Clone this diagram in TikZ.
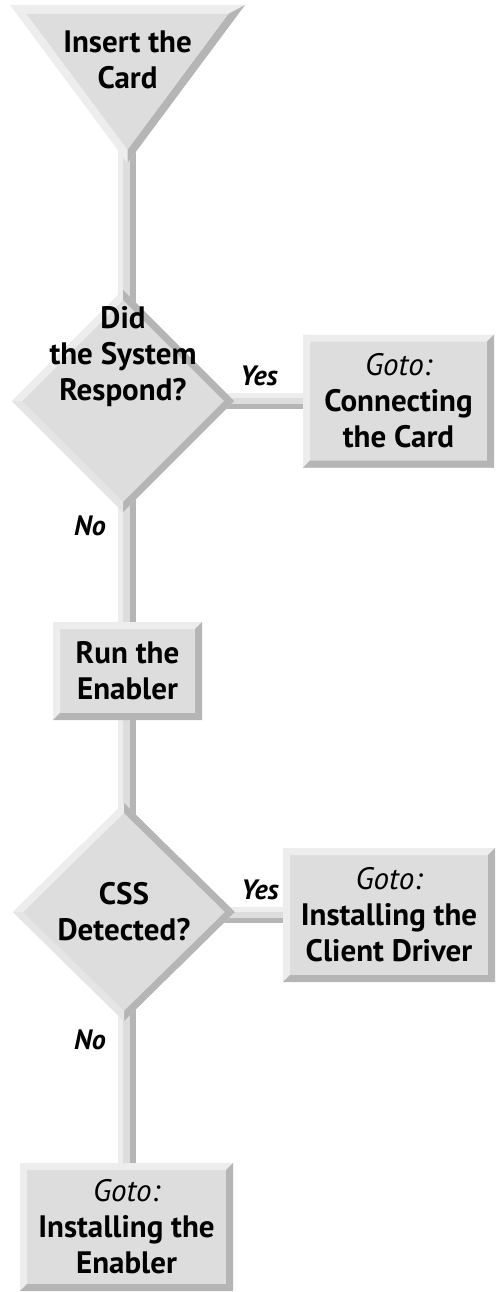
\documentclass[tikz,border=0pt]{standalone}
\usepackage{fontspec}
\setmainfont{PT Sans}
\usetikzlibrary{shapes.geometric,calc,backgrounds}
\definecolor{facecol}{gray}{0.865}
\definecolor{litecol}{gray}{0.93}
\definecolor{lite2col}{gray}{0.90}
\definecolor{darkcol}{gray}{0.71}
\begin{document}
\begin{tikzpicture}[x=1pt,y=-1pt,
  txt/.style={font=\bfseries\fontsize{31}{36}\selectfont, align=center},
  lbl/.style={font=\bfseries\itshape\fontsize{28}{30}\selectfont, inner sep=0pt},
  bevbox/.style={rectangle, inner sep=0pt, outer sep=0pt, fill=facecol, txt,
    path picture={
      \coordinate (NW) at (path picture bounding box.north west);
      \coordinate (NE) at (path picture bounding box.north east);
      \coordinate (SW) at (path picture bounding box.south west);
      \coordinate (SE) at (path picture bounding box.south east);
      \fill[litecol] (NW) -- (NE) -- ([shift={(-7pt,-7pt)}]NE) -- ([shift={(7pt,-7pt)}]NW) -- cycle;
      \fill[litecol] (NW) -- ([shift={(7pt,-7pt)}]NW) -- ([shift={(7pt,7pt)}]SW) -- (SW) -- cycle;
      \fill[darkcol] (NE) -- (SE) -- ([shift={(-7pt,7pt)}]SE) -- ([shift={(-7pt,-7pt)}]NE) -- cycle;
      \fill[darkcol] (SW) -- (SE) -- ([shift={(-7pt,7pt)}]SE) -- ([shift={(7pt,7pt)}]SW) -- cycle;
    }},
  bevdiam/.style={diamond, inner sep=0pt, outer sep=0pt, fill=facecol,
    path picture={
      \coordinate (DN) at (path picture bounding box.north);
      \coordinate (DE) at (path picture bounding box.east);
      \coordinate (DS) at (path picture bounding box.south);
      \coordinate (DW) at (path picture bounding box.west);
      \fill[litecol] (DN) -- (DW) -- ([xshift=10pt]DW) -- ([yshift=-10pt]DN) -- cycle;
      \fill[darkcol] (DN) -- (DE) -- ([xshift=-10pt]DE) -- ([yshift=-10pt]DN) -- cycle;
      \fill[darkcol] (DE) -- (DS) -- ([yshift=10pt]DS) -- ([xshift=-10pt]DE) -- cycle;
      \fill[lite2col] (DS) -- (DW) -- ([xshift=10pt]DW) -- ([yshift=10pt]DS) -- cycle;
    }}
]
\useasboundingbox (0,0) rectangle (497,1292);
\coordinate (spine) at (127,0);

% funnel (triangle)
\fill[litecol] (10,5) -- (245,5) -- (127.5,163) -- cycle;
\fill[darkcol] (245,5) -- (127.5,163) -- (127.5,149.6) -- (228.3,14) -- cycle;
\fill[facecol] (26.7,14) -- (228.3,14) -- (127.5,149.6) -- cycle;
\node[txt, inner sep=0pt] (tri) at (127.5,60) {Insert the\\Card};

% decision 1
\node[bevdiam, minimum width=222pt, minimum height=222pt,
  label={[txt, yshift=44pt]center:{Did\\the System\\Respond?}}] (d1) at (123,401) {};
\node[bevbox, minimum width=191pt, minimum height=133pt] (b1) at (398.5,401)
  {\mdseries\itshape Goto:\\Connecting\\the Card};
\node[lbl] (yes1) at (259,376) {Yes};
\node[lbl] (no1) at (90,526) {No};

% run the enabler
\node[bevbox, minimum width=149pt, minimum height=98pt] (run) at (127.5,671) {Run the\\Enabler};

% decision 2
\node[bevdiam, minimum width=222pt, minimum height=218pt,
  label={[txt]center:{CSS\\Detected?}}] (d2) at (124,912) {};
\node[bevbox, minimum width=212pt, minimum height=134pt] (b2) at (389,915)
  {\mdseries\itshape Goto:\\Installing the\\Client Driver};
\node[lbl] (yes2) at (260,890) {Yes};
\node[lbl] (no2) at (90,1040) {No};

% final box
\node[bevbox, minimum width=213pt, minimum height=128pt] (b3) at (126.5,1227)
  {\mdseries\itshape Goto:\\Installing the\\Enabler};

% connectors
\begin{scope}[on background layer]
\foreach \a/\b in {tri/d1, d1/run, run/d2, d2/b3} {
  \fill[litecol] ($(\a.center -| spine)+(-9,0)$) rectangle ($(\b.center -| spine)+(-4,0)$);
  \fill[facecol] ($(\a.center -| spine)+(-4,0)$) rectangle ($(\b.center -| spine)+(3,0)$);
  \fill[darkcol] ($(\a.center -| spine)+(3,0)$) rectangle ($(\b.center -| spine)+(9,0)$);
}
\foreach \a/\b in {d1/b1, d2/b2} {
  \fill[litecol] ($(\b.center -| \a.center)+(0,-8)$) rectangle ($(\b.center)+(0,-3)$);
  \fill[facecol] ($(\b.center -| \a.center)+(0,-3)$) rectangle ($(\b.center)+(0,3)$);
  \fill[darkcol] ($(\b.center -| \a.center)+(0,3)$) rectangle ($(\b.center)+(0,8)$);
}
\end{scope}
\end{tikzpicture}
\end{document}
